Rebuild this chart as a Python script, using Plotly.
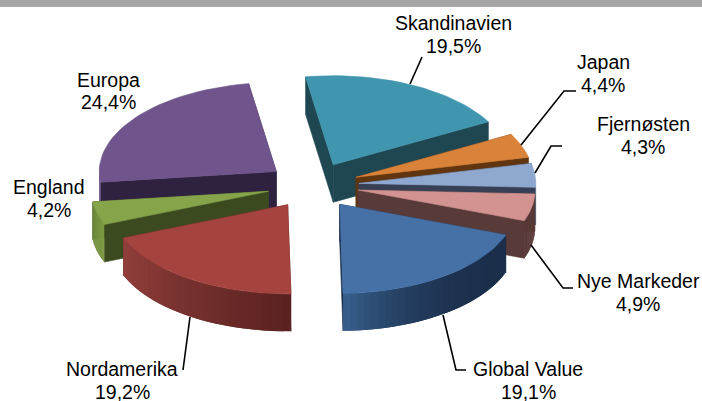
import math
import plotly.graph_objects as go

# ---- data ----
categories = ["Skandinavien", "Japan", "Fjernøsten", "Nye Markeder",
              "Global Value", "Nordamerika", "England", "Europa"]
shares = [19.5, 4.4, 4.3, 4.9, 19.1, 19.2, 4.2, 24.4]
share_labels = ["19,5%", "4,4%", "4,3%", "4,9%", "19,1%", "19,2%", "4,2%", "24,4%"]
top_colors = ["#3F96AE", "#D8823A", "#8FA8D0", "#D29391",
              "#4571A7", "#A5433F", "#86A54B", "#6F558C"]
wall_colors = ["#1F4752", "#60350F", "#384056", "#583A38",
               "#1B2F4B", "#5C2322", "#3C4A20", "#2F2140"]
outer_colors = [("#1F4752", "#1F4752"), ("#60350F", "#60350F"), ("#7488A8", "#7488A8"),
                ("#583A38", "#583A38"), ("#1B2F4B", "#3A6391"),
                ("#5A2220", "#93403C"), ("#7C9A44", "#6E8A3C"), ("#6F558C", "#6F558C")]
draw_order = [0, 7, 1, 2, 6, 3, 4, 5]

# ---- projection of the exploded pie ----
CX, CY = 313, 185.5
RX, RY = 177, 89
EXPLODE = 0.26
DEPTH = 37.5
START_DEG = -9


def hex_mix(c1, c2, t):
    a = [int(c1[i:i + 2], 16) for i in (1, 3, 5)]
    b = [int(c2[i:i + 2], 16) for i in (1, 3, 5)]
    return "#%02X%02X%02X" % tuple(round(p + (q - p) * t) for p, q in zip(a, b))


def polygon(xs, ys, color, width=0.6):
    return go.Scatter(x=xs, y=ys, mode="lines", fill="toself", fillcolor=color,
                      line=dict(color=color, width=width), hoverinfo="skip", showlegend=False)


fig = go.Figure()
angles = []
acc = START_DEG
for v in shares:
    angles.append((acc, acc + v * 3.6))
    acc += v * 3.6

for i in draw_order:
    a0, a1 = angles[i]
    mid = math.radians((a0 + a1) / 2)
    ax = CX + EXPLODE * RX * math.sin(mid)
    ay = CY - EXPLODE * RY * math.cos(mid)
    n = 30
    th = [math.radians(a0 + (a1 - a0) * k / n) for k in range(n + 1)]
    px = [ax + RX * math.sin(t) for t in th]
    py = [ay - RY * math.cos(t) for t in th]
    # radial walls
    for ex, ey in ((px[0], py[0]), (px[-1], py[-1])):
        fig.add_trace(polygon([ax, ex, ex, ax, ax],
                              [ay, ey, ey + DEPTH, ay + DEPTH, ay], wall_colors[i]))
    # outer wall, shaded strip by strip; each strip overlaps the next one to hide seams
    c0, c1 = outer_colors[i]
    for k in range(n):
        if math.cos((th[k] + th[k + 1]) / 2) > 0.05:
            continue
        e = min(k + 2, n)
        xs = px[k:e + 1]
        ys = py[k:e + 1]
        t = (k / n) ** 3 if i == 4 else k / n
        fig.add_trace(polygon(xs + xs[::-1] + [xs[0]],
                              ys + [y + DEPTH for y in ys[::-1]] + [ys[0]],
                              hex_mix(c0, c1, t), width=0))
    # top face
    fig.add_trace(polygon([ax] + px + [ax], [ay] + py + [ay], top_colors[i]))

# leader lines
leaders = [
    ([422, 410], [57, 84]),
    ([576, 564, 521], [91, 91, 145]),
    ([562, 551, 535], [146, 146, 173]),
    ([573, 563, 531], [288, 288, 245]),
    ([466, 456, 443], [370, 370, 315]),
    ([183, 190], [370, 317]),
]
for xs, ys in leaders:
    fig.add_trace(go.Scatter(x=xs, y=ys, mode="lines", line=dict(color="#000000", width=1.6),
                             hoverinfo="skip", showlegend=False))

# data labels: centre x, y of the name line, y of the share line
label_pos = [(453, 23, 46), (603, 62, 85), (643, 124, 147), (638, 281, 304),
             (528, 369, 392), (122, 369, 392), (49, 187, 210), (108, 80, 102)]
annotations = []
for (x, y1, y2), c, s in zip(label_pos, categories, share_labels):
    for y, txt in ((y1, c), (y2, s)):
        annotations.append(dict(x=x, y=y, xref="x", yref="y", text=txt, showarrow=False,
                                font=dict(family="Liberation Sans", size=19.5, color="#000000")))
annotations.append(dict(x=40, y=1.024, xref="x", yref="paper", xanchor="left", yanchor="middle",
                        text="AKTIEMARKEDER", showarrow=False,
                        font=dict(family="Liberation Sans", size=28, color="#FFFFFF")))

fig.update_layout(
    width=702, height=401, margin=dict(l=0, r=0, t=0, b=0),
    paper_bgcolor="#FFFFFF", plot_bgcolor="#FFFFFF",
    xaxis=dict(range=[0, 702], visible=False, fixedrange=True),
    yaxis=dict(range=[401, 0], visible=False, fixedrange=True),
    annotations=annotations,
    shapes=[dict(type="rect", xref="x", yref="y", x0=0, x1=702, y0=0, y1=7,
                 fillcolor="#A6A6A6", line_width=0, layer="below")],
)
fig.write_html("out.html", config=dict(displayModeBar=False),
               post_script="document.body.style.margin='0';document.body.style.overflow='hidden';")
